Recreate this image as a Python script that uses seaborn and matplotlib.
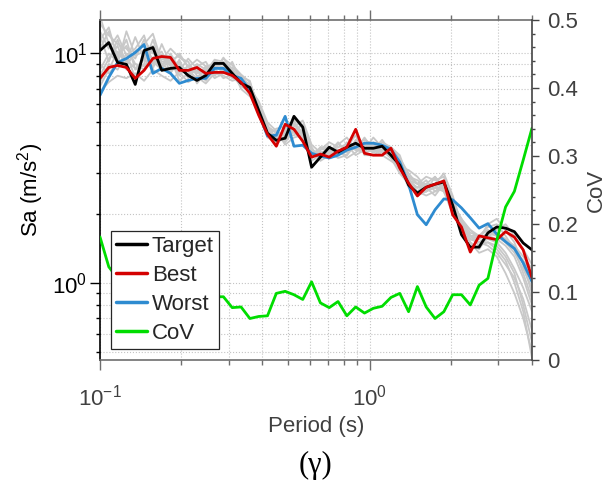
import numpy as np
import pandas as pd
import matplotlib
matplotlib.use("Agg")
import matplotlib.pyplot as plt
import seaborn as sns
from matplotlib.ticker import LogLocator, NullFormatter, MultipleLocator, FuncFormatter
from matplotlib.lines import Line2D

# ---------------- data ----------------
periods = [0.1000, 0.1078, 0.1162, 0.1253, 0.1351, 0.1457, 0.1571, 0.1694, 0.1826, 0.1969,
           0.2123, 0.2289, 0.2468, 0.2661, 0.2869, 0.3093, 0.3335, 0.3596, 0.3877, 0.4180,
           0.4507, 0.4860, 0.5240, 0.5649, 0.6091, 0.6567, 0.7081, 0.7634, 0.8231, 0.8875,
           0.9569, 1.0317, 1.1124, 1.1994, 1.2932, 1.3943, 1.5033, 1.6208, 1.7476, 1.8842,
           2.0316, 2.1904, 2.3617, 2.5464, 2.7455, 2.9602, 3.1916, 3.4412, 3.7103, 4.0000]

target = [10.30, 11.16, 9.14, 8.96, 7.33, 10.30, 10.62, 8.44, 8.61, 8.69,
          8.02, 7.63, 8.02, 9.05, 9.05, 8.19, 7.41, 7.11, 5.65, 4.49,
          4.18, 4.27, 5.32, 4.77, 3.19, 3.53, 3.90, 3.71, 3.90, 4.06,
          3.86, 3.86, 3.94, 3.60, 3.26, 2.67, 2.46, 2.61, 2.69, 2.75,
          2.18, 1.62, 1.43, 1.43, 1.65, 1.75, 1.73, 1.67, 1.49, 1.39]

best = [7.79, 8.69, 8.87, 8.69, 7.79, 8.44, 9.51, 9.70, 9.61, 8.44,
        8.44, 8.69, 8.19, 8.27, 8.27, 8.02, 7.48, 6.70, 5.38, 4.44,
        3.94, 4.91, 4.67, 4.14, 3.53, 3.64, 3.53, 3.75, 3.90, 4.67,
        3.67, 3.60, 3.60, 3.86, 3.16, 2.72, 2.39, 2.61, 2.69, 2.78,
        1.98, 1.75, 1.36, 1.60, 1.57, 1.54, 1.67, 1.58, 1.39, 1.05]

worst = [6.57, 7.87, 9.14, 9.51, 10.10, 10.94, 8.19, 8.61, 8.19, 7.41,
         7.63, 7.79, 7.79, 8.61, 8.61, 8.02, 7.79, 6.91, 5.49, 4.36,
         4.40, 5.32, 3.94, 3.98, 3.67, 3.57, 3.50, 3.60, 3.79, 3.90,
         4.06, 4.06, 3.98, 3.82, 3.36, 2.69, 1.98, 1.79, 2.08, 2.32,
         2.30, 2.12, 1.92, 1.73, 1.81, 1.63, 1.51, 1.41, 1.22, 1.01]

cov = [0.181, 0.137, 0.120, 0.110, 0.100, 0.105, 0.095, 0.100, 0.090, 0.095,
       0.100, 0.090, 0.095, 0.093, 0.093, 0.077, 0.078, 0.061, 0.064, 0.065,
       0.098, 0.101, 0.096, 0.089, 0.115, 0.084, 0.077, 0.086, 0.065, 0.078,
       0.069, 0.076, 0.079, 0.092, 0.098, 0.071, 0.108, 0.078, 0.061, 0.071,
       0.096, 0.096, 0.081, 0.110, 0.120, 0.176, 0.225, 0.248, 0.294, 0.341]

gray_1 = [13.5, 12.0, 11.0, 10.5, 9.5, 11.5, 10.0, 9.8, 9.0, 8.8, 8.5, 8.2, 8.6, 8.8, 8.4, 8.0, 7.2, 6.8, 5.8, 4.6,
          4.4, 4.6, 4.9, 4.4, 3.6, 3.7, 3.8, 3.6, 3.8, 4.0, 4.2, 4.0, 3.8, 3.5, 3.1, 2.8, 2.6, 2.7, 2.6, 2.5,
          2.1, 1.8, 1.6, 1.5, 1.45, 1.35, 1.2, 1.05, 0.85, 0.62]
gray_2 = [8.0, 9.5, 10.8, 8.5, 9.0, 8.8, 9.6, 10.2, 8.2, 9.4, 7.8, 8.8, 9.2, 8.0, 8.6, 7.8, 7.6, 6.9, 5.5, 4.8,
          4.5, 4.1, 4.6, 4.9, 3.9, 3.4, 3.6, 4.0, 4.3, 3.8, 3.7, 4.1, 4.0, 3.7, 3.4, 2.9, 2.4, 2.5, 2.9, 2.6,
          2.2, 1.9, 1.7, 1.6, 1.7, 1.6, 1.5, 1.4, 1.25, 1.1]
gray_3 = [11.5, 13.0, 9.5, 11.5, 8.5, 9.0, 11.5, 8.9, 9.8, 8.0, 8.9, 7.4, 8.3, 9.4, 9.2, 8.6, 7.0, 6.5, 5.9, 4.9,
          4.0, 4.4, 5.0, 4.5, 3.5, 3.9, 3.7, 3.5, 3.6, 4.2, 3.9, 3.7, 4.1, 3.9, 3.5, 3.0, 2.7, 2.9, 2.8, 2.9,
          2.3, 1.7, 1.5, 1.4, 1.6, 1.7, 1.8, 1.6, 1.4, 1.2]
gray_4 = [6.8, 7.5, 8.0, 7.8, 8.2, 7.6, 8.5, 8.0, 7.6, 8.3, 7.5, 7.9, 7.4, 8.2, 8.0, 7.6, 7.8, 7.3, 6.0, 4.7,
          4.3, 4.2, 4.7, 4.6, 3.8, 3.6, 3.9, 3.8, 3.5, 3.7, 4.0, 3.8, 3.6, 3.4, 3.2, 2.6, 2.5, 2.4, 2.5, 2.7,
          2.0, 1.75, 1.55, 1.5, 1.55, 1.5, 1.35, 1.15, 0.95, 0.75]
gray_5 = [12.5, 10.5, 12.0, 9.8, 10.5, 12.0, 9.0, 9.4, 10.5, 9.6, 9.2, 8.0, 7.8, 8.5, 9.5, 8.9, 8.1, 7.5, 5.7, 4.4,
          4.7, 4.8, 4.5, 4.2, 3.7, 3.8, 4.1, 3.9, 4.0, 3.6, 3.8, 4.3, 3.9, 3.8, 3.3, 2.9, 2.8, 2.6, 2.7, 3.0,
          2.4, 1.8, 1.6, 1.55, 1.8, 1.9, 1.7, 1.5, 1.2, 0.9]
gray_6 = [9.0, 8.2, 9.0, 12.5, 9.8, 10.2, 8.6, 11.0, 9.0, 10.0, 8.7, 9.4, 8.8, 7.8, 8.2, 9.2, 7.5, 7.0, 6.2, 5.0,
          4.6, 4.0, 4.3, 4.4, 3.4, 3.6, 3.5, 3.6, 3.9, 4.4, 3.6, 3.6, 3.8, 3.5, 3.0, 2.7, 2.6, 2.8, 2.5, 2.6,
          2.2, 1.9, 1.5, 1.35, 1.4, 1.3, 1.1, 0.9, 0.7, 0.5]
gray_7 = [14.5, 11.0, 10.0, 9.2, 11.8, 9.5, 10.5, 9.6, 8.8, 8.4, 9.5, 8.6, 8.0, 9.0, 8.7, 8.3, 7.7, 6.8, 5.4, 4.5,
          4.4, 4.5, 5.2, 4.7, 3.6, 3.5, 3.7, 4.1, 3.7, 3.9, 4.1, 3.9, 3.7, 3.6, 3.4, 2.8, 2.5, 2.5, 2.6, 2.8,
          2.3, 1.85, 1.65, 1.6, 1.6, 1.55, 1.45, 1.3, 1.05, 0.8]
gray_8 = [7.5, 9.0, 8.5, 10.0, 7.8, 9.8, 9.2, 8.5, 9.6, 7.6, 8.2, 8.4, 7.6, 8.6, 7.8, 8.1, 7.9, 7.6, 5.6, 4.3,
          4.1, 4.3, 4.8, 5.1, 4.0, 3.7, 3.6, 3.7, 4.1, 3.8, 4.3, 3.8, 4.2, 3.7, 3.2, 3.1, 2.9, 2.6, 2.4, 2.7,
          2.1, 1.7, 1.6, 1.45, 1.5, 1.45, 1.3, 1.1, 0.8, 0.55]
gray_9 = [10.5, 12.5, 9.8, 10.8, 9.0, 8.5, 10.8, 9.0, 8.4, 9.2, 8.0, 9.0, 8.5, 8.4, 9.6, 8.4, 7.4, 7.2, 6.0, 4.6,
          4.3, 4.7, 5.1, 4.3, 3.5, 3.9, 3.9, 3.7, 3.6, 4.0, 3.8, 4.0, 3.9, 3.9, 3.6, 2.8, 2.7, 2.7, 2.9, 2.5,
          2.0, 1.8, 1.6, 1.6, 1.75, 1.8, 1.6, 1.4, 1.1, 0.85]
gray_10 = [8.5, 10.0, 9.2, 8.8, 10.2, 10.8, 9.4, 8.7, 10.0, 8.6, 8.4, 7.8, 8.8, 8.9, 8.3, 7.9, 7.5, 7.4, 5.9, 4.8,
           4.5, 4.4, 4.4, 4.6, 3.7, 3.5, 3.8, 3.8, 3.7, 3.9, 3.7, 3.8, 3.7, 3.6, 3.3, 2.7, 2.6, 2.6, 2.6, 2.6,
           2.1, 1.75, 1.6, 1.5, 1.5, 1.4, 1.25, 1.0, 0.75, 0.47]
gray_11 = [12.0, 9.2, 11.5, 9.0, 10.0, 11.0, 12.2, 9.2, 9.3, 9.8, 8.8, 8.4, 8.4, 9.3, 8.9, 8.5, 7.7, 7.0, 5.8, 4.7,
           4.2, 4.6, 4.6, 4.5, 3.6, 3.8, 3.9, 3.8, 3.8, 4.1, 4.0, 3.9, 3.8, 3.6, 3.3, 2.9, 2.7, 2.5, 2.7, 2.6,
           2.2, 1.85, 1.7, 1.55, 1.65, 1.6, 1.5, 1.35, 1.15, 0.95]
gray_12 = [7.2, 8.5, 10.2, 9.4, 8.6, 9.4, 8.8, 9.9, 8.9, 9.0, 8.0, 7.7, 8.6, 8.7, 8.5, 8.7, 8.0, 7.1, 5.6, 4.6,
           4.6, 4.3, 4.7, 4.4, 3.7, 3.7, 3.6, 3.6, 3.9, 3.8, 3.9, 3.7, 3.8, 3.5, 3.4, 2.8, 2.5, 2.7, 2.6, 2.8,
           2.2, 1.8, 1.55, 1.5, 1.6, 1.65, 1.55, 1.45, 1.3, 1.15]
gray_records = [gray_1, gray_2, gray_3, gray_4, gray_5, gray_6,
                gray_7, gray_8, gray_9, gray_10, gray_11, gray_12]

# ---------------- style ----------------
sns.set_theme(style="white")
plt.rcParams["font.family"] = ["Liberation Sans", "DejaVu Sans"]
plt.rcParams["mathtext.fontset"] = "custom"
plt.rcParams["mathtext.rm"] = "Liberation Sans"
plt.rcParams["mathtext.it"] = "Liberation Sans:italic"
plt.rcParams["mathtext.bf"] = "Liberation Sans:bold"
plt.rcParams["axes.unicode_minus"] = False

C_TARGET = "#000000"
C_BEST = "#d40000"
C_WORST = "#2e8bd0"
C_COV = "#00dd00"
C_GRAY = "#c8c8c8"
FS = 16

fig = plt.figure(figsize=(6.14, 4.88), dpi=100)
ax = fig.add_axes([100 / 614, 128 / 488, 432 / 614, 340 / 488])
ax.set_xscale("log")
ax.set_yscale("log")

# gray records
rows = []
for k, rec in enumerate(gray_records):
    for p, v in zip(periods, rec):
        rows.append((k, p, v))
gdf = pd.DataFrame(rows, columns=["rec", "period", "sa"])
sns.lineplot(data=gdf, x="period", y="sa", units="rec", estimator=None, sort=False,
             color=C_GRAY, lw=1.3, ax=ax, legend=False)

# main series
n = len(periods)
main = pd.DataFrame({
    "period": periods * 3,
    "sa": worst + target + best,
    "series": ["Worst"] * n + ["Target"] * n + ["Best"] * n,
})
sns.lineplot(data=main, x="period", y="sa", hue="series",
             hue_order=["Worst", "Target", "Best"],
             palette={"Target": C_TARGET, "Best": C_BEST, "Worst": C_WORST},
             estimator=None, sort=False, lw=2.0, ax=ax, legend=False)

ax.set_xlim(0.1, 4.0)
ax.set_ylim(0.46, 14.0)

# grid
ax.grid(True, which="both", axis="both", ls=":", color="#c4c4c4", lw=0.8)
ax.set_axisbelow(True)

# ticks
ax.xaxis.set_major_locator(LogLocator(base=10, numticks=10))
ax.xaxis.set_minor_locator(LogLocator(base=10, subs=np.arange(2, 10), numticks=20))
ax.xaxis.set_minor_formatter(NullFormatter())
ax.yaxis.set_minor_locator(LogLocator(base=10, subs=np.arange(2, 10), numticks=20))
ax.yaxis.set_minor_formatter(NullFormatter())

ax.tick_params(axis="x", which="both", direction="out", bottom=True, top=True,
               color="#6e6e6e", labelcolor="#404040", labelsize=FS, width=1.0)
ax.tick_params(axis="x", which="major", length=7, pad=11)
ax.tick_params(axis="x", which="minor", length=3.5)
ax.tick_params(axis="y", which="both", direction="out", left=True, right=False,
               color="black", labelcolor="black", labelsize=FS, width=1.0)
ax.tick_params(axis="y", which="major", length=7, pad=2)
ax.tick_params(axis="y", which="minor", length=3)

for s in ["top", "bottom"]:
    ax.spines[s].set_color("#6e6e6e")
    ax.spines[s].set_linewidth(1.2)
ax.spines["left"].set_color("black")
ax.spines["left"].set_linewidth(1.2)
ax.spines["right"].set_visible(False)

ax.set_xlabel("Period (s)", fontsize=FS, color="#404040")
ax.xaxis.set_label_coords(0.5, -0.165)
ax.set_ylabel("Sa (m/s$^2$)", fontsize=FS, color="black")
ax.yaxis.set_label_coords(-0.125, 0.5)

# twin axis with CoV
ax2 = ax.twinx()
sns.lineplot(x=periods, y=cov, color=C_COV, lw=2.0, ax=ax2, estimator=None, sort=False)
ax2.set_ylim(0, 0.5)
ax2.set_xlim(0.1, 4.0)
ax2.grid(False)
ax2.yaxis.set_major_locator(MultipleLocator(0.1))
ax2.yaxis.set_minor_locator(MultipleLocator(0.02))
ax2.yaxis.set_major_formatter(FuncFormatter(lambda v, p: f"{v:g}"))
ax2.tick_params(axis="y", which="both", direction="out", right=True, left=False,
                color="#444444", labelcolor="#404040", labelsize=FS, width=1.0)
ax2.tick_params(axis="y", which="major", length=5, pad=6)
ax2.tick_params(axis="y", which="minor", length=2.5)
for s in ["top", "bottom", "left"]:
    ax2.spines[s].set_visible(False)
ax2.spines["right"].set_color("#444444")
ax2.spines["right"].set_linewidth(1.2)
ax2.set_ylabel("CoV", fontsize=FS, color="#404040")
ax2.yaxis.set_label_coords(1.125, 0.5)

# legend
handles = [Line2D([], [], color=C_TARGET, lw=2.5),
           Line2D([], [], color=C_BEST, lw=2.5),
           Line2D([], [], color=C_WORST, lw=2.5),
           Line2D([], [], color=C_COV, lw=2.5)]
leg = ax2.legend(handles, ["Target", "Best", "Worst", "CoV"], loc="lower left",
                 bbox_to_anchor=(0.0248, 0.032), borderaxespad=0, fontsize=FS,
                 frameon=True, fancybox=False, framealpha=1, edgecolor="#262626",
                 borderpad=0.25, handlelength=1.4, handletextpad=0.2, labelspacing=0.35)
leg.get_frame().set_linewidth(0.9)

fig.text(316 / 614, (488 - 465) / 488, "(\u03b3)", family=["Liberation Serif", "DejaVu Serif"],
         fontsize=22, ha="center", va="center", color="black")

fig.savefig("out.png", dpi=100)
